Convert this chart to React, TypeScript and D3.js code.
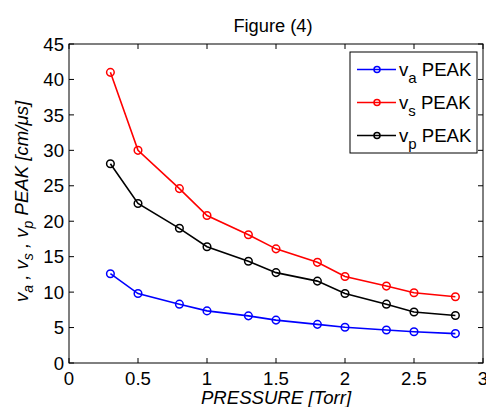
import React from "react";
import * as d3 from "d3";

const pressure = [0.3, 0.5, 0.8, 1.0, 1.3, 1.5, 1.8, 2.0, 2.3, 2.5, 2.8];
const vaPeak = [12.6, 9.8, 8.3, 7.35, 6.65, 6.05, 5.45, 5.05, 4.65, 4.4, 4.15];
const vsPeak = [41.0, 30.0, 24.6, 20.8, 18.1, 16.1, 14.2, 12.2, 10.85, 9.9, 9.35];
const vpPeak = [28.1, 22.5, 19.0, 16.4, 14.35, 12.75, 11.55, 9.8, 8.3, 7.2, 6.7];
const xTicks = [0, 0.5, 1, 1.5, 2, 2.5, 3];
const yTicks = [0, 5, 10, 15, 20, 25, 30, 35, 40, 45];
const seriesNames = ["a", "s", "p"];
const seriesColors = ["#0000ff", "#ff0000", "#000000"];

const W = 486;
const H = 407;
const M = { left: 69, right: 483, top: 44, bottom: 363 };
const FONT = "'Liberation Sans', Arial, sans-serif";
const FS = 18.6;

export default function App() {
  const x = d3.scaleLinear().domain([0, 3]).range([M.left, M.right]);
  const y = d3.scaleLinear().domain([0, 45]).range([M.bottom, M.top]);
  const line = d3
    .line<number>()
    .x((_, i) => x(pressure[i]))
    .y((d) => y(d));
  const series = [vaPeak, vsPeak, vpPeak];
  const tl = 5;
  const legX = 350;
  const legY = 52;
  const legW = 127;
  const legH = 101;

  return (
    <svg
      width={W}
      height={H}
      style={{ position: "absolute", left: 0, top: 0, fontFamily: FONT }}
    >
      <rect x={0} y={0} width={W} height={H} fill="#fff" />
      <text x={273} y={32} fontSize={18.3} textAnchor="middle" fill="#000">
        Figure (4)
      </text>
      {/* ticks */}
      {xTicks.map((t) => (
        <g key={"x" + t}>
          <line x1={x(t)} x2={x(t)} y1={M.bottom} y2={M.bottom - tl} stroke="#000" />
          <line x1={x(t)} x2={x(t)} y1={M.top} y2={M.top + tl} stroke="#000" />
          <text x={x(t)} y={385} fontSize={FS} textAnchor="middle" fill="#000">
            {t}
          </text>
        </g>
      ))}
      {yTicks.map((t) => (
        <g key={"y" + t}>
          <line x1={M.left} x2={M.left + tl} y1={y(t)} y2={y(t)} stroke="#000" />
          <line x1={M.right} x2={M.right - tl} y1={y(t)} y2={y(t)} stroke="#000" />
          <text
            x={64}
            y={y(t)}
            dy="0.36em"
            fontSize={FS}
            textAnchor="end"
            fill="#000"
          >
            {t}
          </text>
        </g>
      ))}
      <rect
        x={M.left}
        y={M.top}
        width={M.right - M.left}
        height={M.bottom - M.top}
        fill="none"
        stroke="#000"
        strokeWidth={1}
      />
      {/* data */}
      {series.map((s, k) => (
        <g key={"s" + k}>
          <path d={line(s) || ""} fill="none" stroke={seriesColors[k]} strokeWidth={1.6} />
          {s.map((v, i) => (
            <circle
              key={i}
              cx={x(pressure[i])}
              cy={y(v)}
              r={3.8}
              fill="none"
              stroke={seriesColors[k]}
              strokeWidth={1.5}
            />
          ))}
        </g>
      ))}
      {/* x label */}
      <text x={276} y={404} fontSize={FS} fontStyle="italic" textAnchor="middle" fill="#000">
        PRESSURE [Torr]
      </text>
      {/* y label */}
      <text
        transform={`translate(28,${(M.top + M.bottom) / 2 - 2}) rotate(-90)`}
        fontSize={FS}
        fontStyle="italic"
        textAnchor="middle"
        fill="#000"
      >
        <tspan>v</tspan>
        <tspan fontSize={14} dy={5}>a</tspan>
        <tspan dy={-5}> , v</tspan>
        <tspan fontSize={14} dy={5}>s</tspan>
        <tspan dy={-5}> , v</tspan>
        <tspan fontSize={14} dy={5}>p</tspan>
        <tspan dy={-5}> PEAK [cm/μs]</tspan>
      </text>
      {/* legend */}
      <rect x={legX} y={legY} width={legW} height={legH} fill="#fff" stroke="#000" strokeWidth={1} />
      {seriesNames.map((n, k) => {
        const ly = 69.5 + k * 33;
        return (
          <g key={"l" + n}>
            <line x1={357} x2={396} y1={ly} y2={ly} stroke={seriesColors[k]} strokeWidth={1.6} />
            <circle cx={377} cy={ly} r={3} fill="none" stroke={seriesColors[k]} strokeWidth={1.5} />
            <text x={399} y={ly + 6} fontSize={FS} fill="#000">
              <tspan>v</tspan>
              <tspan fontSize={15} dy={7}>{n}</tspan>
              <tspan dy={-7}> PEAK</tspan>
            </text>
          </g>
        );
      })}
    </svg>
  );
}
